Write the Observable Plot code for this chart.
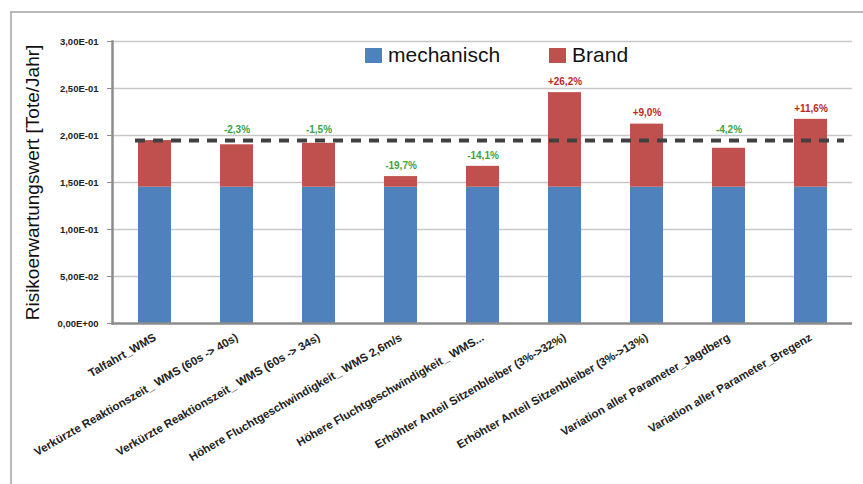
<!DOCTYPE html>
<html>
<head>
<meta charset="utf-8">
<script src="https://cdn.jsdelivr.net/npm/d3@7"></script>
<script src="https://cdn.jsdelivr.net/npm/@observablehq/plot@0.6"></script>
<style>
  html, body { margin: 0; padding: 0; background: #fff; }
  #wrap { position: relative; width: 863px; height: 484px; overflow: hidden; font-family: "Liberation Sans", Arial, sans-serif; }
  #frame { position: absolute; left: 10px; top: 11px; width: 860px; height: 480px; border-left: 2px solid #b9b9b9; border-top: 2px solid #b9b9b9; }
  #chart { position: absolute; left: 0; top: 0; }
  #legend { position: absolute; left: 365px; top: 43px; display: flex; align-items: center; font-size: 21px; color: #111; }
  .item { display: flex; align-items: center; margin-right: 49px; }
  .sw { width: 17px; height: 15px; margin-right: 6px; }
</style>
</head>
<body>
<div id="wrap">
  <div id="frame"></div>
  <div id="chart"></div>
  <div id="legend"></div>
</div>
<script>
const categories = [
  "Talfahrt_WMS",
  "Verkürzte Reaktionszeit_ WMS (60s -> 40s)",
  "Verkürzte Reaktionszeit_ WMS (60s -> 34s)",
  "Höhere Fluchtgeschwindigkeit_ WMS 2,6m/s",
  "Höhere Fluchtgeschwindigkeit_ WMS...",
  "Erhöhter Anteil Sitzenbleiber (3%->32%)",
  "Erhöhter Anteil Sitzenbleiber (3%->13%)",
  "Variation aller Parameter_Jagdberg",
  "Variation aller Parameter_Bregenz"
];
const seriesNames = ["mechanisch", "Brand"];
const seriesColors = ["#4f81bd", "#c0504d"];
const mechanisch = [0.145, 0.145, 0.145, 0.145, 0.145, 0.145, 0.145, 0.145, 0.145];
const brand = [0.0496, 0.0451, 0.0467, 0.0113, 0.0222, 0.1006, 0.0671, 0.0414, 0.0722];
const referenz = 0.1946;
const pctLabels = ["", "-2,3%", "-1,5%", "-19,7%", "-14,1%", "+26,2%", "+9,0%", "-4,2%", "+11,6%"];
const yTicks = [0, 0.05, 0.10, 0.15, 0.20, 0.25, 0.30];
const yLabel = "Risikoerwartungswert [Tote/Jahr]";

const rows = [];
categories.forEach((c, i) => {
  rows.push({cat: c, series: seriesNames[0], value: mechanisch[i]});
  rows.push({cat: c, series: seriesNames[1], value: brand[i]});
});
const labelRows = categories.map((c, i) => ({
  cat: c, total: mechanisch[i] + brand[i], text: pctLabels[i]
})).filter(d => d.text);
// labels of bars just under the dashed reference line sit above that line
const labelY = d => (d.total < referenz && referenz - d.total < 0.012) ? referenz : d.total;

function fmtE(v) {
  const s = v.toExponential(2);
  const [m, e] = s.split("e");
  const sign = e[0] === "-" ? "-" : "+";
  const num = Math.abs(parseInt(e, 10));
  return m.replace(".", ",") + "E" + sign + String(num).padStart(2, "0");
}

const chart = Plot.plot({
  width: 863,
  height: 484,
  marginLeft: 112,
  marginRight: 11,
  marginTop: 41,
  marginBottom: 161,
  style: {background: "transparent", fontFamily: "Liberation Sans, Arial, sans-serif", overflow: "visible"},
  x: {domain: categories, paddingInner: 0.6, paddingOuter: 0.3},
  y: {domain: [0, 0.3]},
  color: {domain: seriesNames, range: seriesColors},
  marks: [
    Plot.gridY(yTicks.filter(t => t > 0), {stroke: "#c8c8c8", strokeOpacity: 1, strokeWidth: 1.6}),
    Plot.barY(rows, {x: "cat", y: "value", fill: "series"}),
    Plot.ruleY([referenz], {stroke: "#404040", strokeWidth: 4, strokeDasharray: "10,8", insetLeft: 23, insetRight: 8}),
    Plot.text(labelRows, {
      x: "cat", y: labelY, text: "text", dy: -11,
      fill: d => d.text.startsWith("+") ? "#c0281e" : "#3fa23f",
      fontWeight: "bold", fontSize: 10
    }),
    Plot.frame({anchor: "left", stroke: "#8c8c8c", strokeWidth: 2.5}),
    Plot.ruleY([0], {stroke: "#8c8c8c", strokeWidth: 2.5}),
    Plot.axisY({ticks: yTicks, tickFormat: fmtE, tickSize: 5, tickPadding: 9, fontSize: 9.5, fontWeight: "bold", stroke: "#8c8c8c", label: null, color: "#222"}),
    Plot.axisX({tickSize: 0, tickPadding: 13, tickRotate: -30, fontSize: 11.5, fontWeight: "bold", label: null, color: "#222"}),
    Plot.text([yLabel], {frameAnchor: "left", rotate: -90, dx: -80, fontSize: 19, textAnchor: "middle", lineAnchor: "middle", fill: "#111"})
  ]
});
document.getElementById("chart").appendChild(chart);

const legend = document.getElementById("legend");
seriesNames.forEach((s, i) => {
  const it = document.createElement("div");
  it.className = "item";
  const sw = document.createElement("div");
  sw.className = "sw";
  sw.style.background = seriesColors[i];
  const t = document.createElement("span");
  t.textContent = s;
  it.appendChild(sw); it.appendChild(t);
  legend.appendChild(it);
});
</script>
</body>
</html>
